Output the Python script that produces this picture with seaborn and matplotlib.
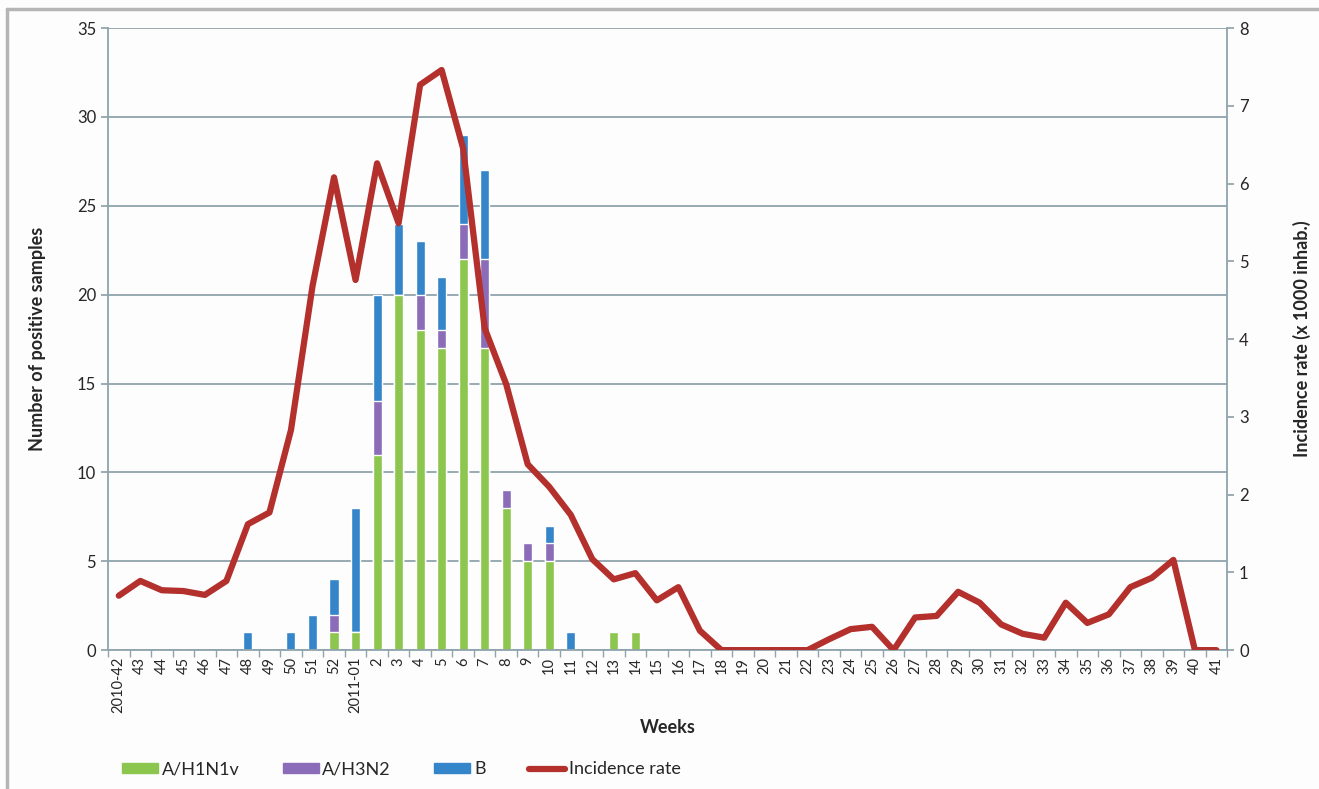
import numpy as np
import pandas as pd
import matplotlib
matplotlib.use("Agg")
import matplotlib.pyplot as plt
from matplotlib.lines import Line2D
from matplotlib.patches import Patch
import seaborn as sns

# week labels, 2010-42 .. 2011-41
weeks = ["2010-42", "43", "44", "45", "46", "47", "48", "49", "50", "51", "52",
         "2011-01", "2", "3", "4", "5", "6", "7", "8", "9", "10", "11", "12",
         "13", "14", "15", "16", "17", "18", "19", "20", "21", "22", "23", "24",
         "25", "26", "27", "28", "29", "30", "31", "32", "33", "34", "35", "36",
         "37", "38", "39", "40", "41"]

# positive samples per subtype
h1n1 = [0, 0, 0, 0, 0, 0, 0, 0, 0, 0, 1,
        1, 11, 20, 18, 17, 22, 17, 8, 5, 5, 0, 0,
        1, 1, 0, 0, 0, 0, 0, 0, 0, 0, 0, 0,
        0, 0, 0, 0, 0, 0, 0, 0, 0, 0, 0, 0,
        0, 0, 0, 0, 0]
h3n2 = [0, 0, 0, 0, 0, 0, 0, 0, 0, 0, 1,
        0, 3, 0, 2, 1, 2, 5, 1, 1, 1, 0, 0,
        0, 0, 0, 0, 0, 0, 0, 0, 0, 0, 0, 0,
        0, 0, 0, 0, 0, 0, 0, 0, 0, 0, 0, 0,
        0, 0, 0, 0, 0]
flu_b = [0, 0, 0, 0, 0, 0, 1, 0, 1, 2, 2,
         7, 6, 4, 3, 3, 5, 5, 0, 0, 1, 1, 0,
         0, 0, 0, 0, 0, 0, 0, 0, 0, 0, 0, 0,
         0, 0, 0, 0, 0, 0, 0, 0, 0, 0, 0, 0,
         0, 0, 0, 0, 0]

# incidence rate (x 1000 inhab.)
incidence = [0.70, 0.89, 0.77, 0.76, 0.71, 0.89, 1.62, 1.77, 2.83, 4.68, 6.08,
             4.76, 6.26, 5.49, 7.27, 7.46, 6.45, 4.14, 3.42, 2.39, 2.10, 1.74, 1.17,
             0.91, 0.99, 0.64, 0.81, 0.25, 0.0, 0.0, 0.0, 0.0, 0.0, 0.14, 0.27,
             0.30, 0.0, 0.42, 0.44, 0.75, 0.61, 0.33, 0.21, 0.16, 0.61, 0.35, 0.46,
             0.81, 0.93, 1.16, 0.0, 0.0]

df = pd.DataFrame({"week": weeks, "h1": h1n1, "h3": h3n2, "b": flu_b, "rate": incidence})
df["h1h3"] = df["h1"] + df["h3"]
df["total"] = df["h1h3"] + df["b"]

green, purple, blue, red = "#8cc64e", "#8a6cb8", "#3485c9", "#b3302d"
grid_c = "#8fa3ab"

sns.set_theme(style="white")
plt.rcParams["font.family"] = ["Lato", "DejaVu Sans"]

fig = plt.figure(figsize=(13.19, 7.89), dpi=100)
fig.patch.set_facecolor("#fdfdfe")
ax = fig.add_axes([0.0819, 0.176, 0.8485, 0.7885])
ax.set_facecolor("#fdfdfe")

# stacked look: draw cumulative totals, largest first
sns.barplot(data=df, x="week", y="total", color=blue, width=0.42, saturation=1, ax=ax, zorder=2)
sns.barplot(data=df, x="week", y="h1h3", color=purple, width=0.42, saturation=1, ax=ax, zorder=2)
sns.barplot(data=df, x="week", y="h1", color=green, width=0.42, saturation=1, ax=ax, zorder=2)

ax.set_ylim(0, 35)
ax.set_xlim(-0.5, len(weeks) - 0.5)
ax.set_yticks(range(0, 36, 5))
ax.yaxis.grid(True, color=grid_c, lw=1.3, zorder=0)
ax.set_axisbelow(True)
ax.set_xticks(range(len(weeks)))
ax.set_xticklabels(weeks, rotation=90, fontsize=10.5)
ax.set_xticks(np.arange(-0.5, len(weeks), 1), minor=True)
ax.tick_params(axis="x", which="major", length=0, pad=5)
ax.tick_params(axis="x", which="minor", length=5, color=grid_c, bottom=True)
ax.tick_params(axis="y", length=5, color=grid_c, left=True, labelsize=12)
ax.set_xlabel("Weeks", fontsize=13, fontweight="bold", labelpad=4)
ax.set_ylabel("Number of positive samples", fontsize=13, fontweight="bold", labelpad=22)
for side in ["left", "bottom"]:
    ax.spines[side].set_color(grid_c)
    ax.spines[side].set_linewidth(1.3)
for side in ["top", "right"]:
    ax.spines[side].set_visible(False)

ax2 = ax.twinx()
sns.lineplot(x=np.arange(len(weeks)), y=df["rate"].values, color=red, lw=4.5, ax=ax2)
ax2.set_ylim(0, 8)
ax2.set_xlim(-0.5, len(weeks) - 0.5)
ax2.set_yticks(range(0, 9))
ax2.tick_params(axis="y", length=5, color=grid_c, right=True, labelsize=12)
ax2.set_ylabel("Incidence rate (x 1000 inhab.)", fontsize=13, fontweight="bold", labelpad=32)
for side in ["left", "top", "bottom"]:
    ax2.spines[side].set_visible(False)
ax2.spines["right"].set_color(grid_c)
ax2.spines["right"].set_linewidth(1.3)

handles = [Patch(color=green), Patch(color=purple), Patch(color=blue),
           Line2D([0], [0], color=red, lw=4.5)]
fig.legend(handles, ["A/H1N1v", "A/H3N2", "B", "Incidence rate"], loc="lower left",
           bbox_to_anchor=(0.08, -0.006), ncol=4, frameon=False, fontsize=13,
           handlelength=2.0, handleheight=0.5, handletextpad=0.2, columnspacing=2.4)

# outer frame
fig.add_artist(Line2D([0.0053, 0.0053], [0, 0.9886], color="#b5b5b5", lw=2.5, transform=fig.transFigure))
fig.add_artist(Line2D([0.0053, 1], [0.9886, 0.9886], color="#b5b5b5", lw=2.5, transform=fig.transFigure))

fig.savefig("out.png", dpi=100, facecolor=fig.get_facecolor())
